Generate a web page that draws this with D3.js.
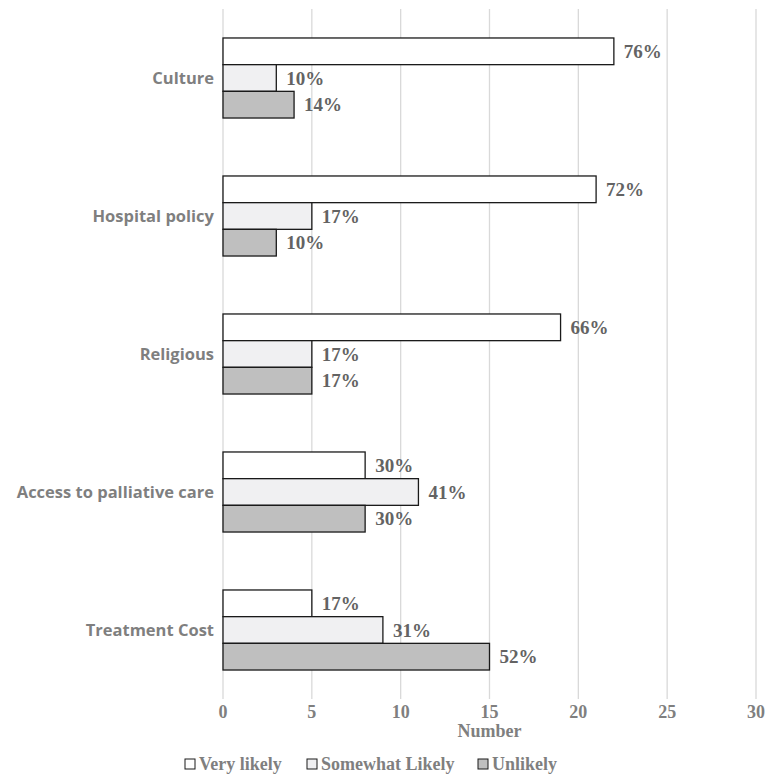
<!DOCTYPE html>
<html>
<head>
<meta charset="utf-8">
<script src="https://cdn.jsdelivr.net/npm/d3@7"></script>
<style>
  body { margin: 0; background: #fff; }
</style>
</head>
<body>
<div id="vizArea"></div>
<script>
// data
var categories = ["Culture", "Hospital policy", "Religious", "Access to palliative care", "Treatment Cost"];
var seriesNames = ["Very likely", "Somewhat Likely", "Unlikely"];
var veryLikely = [22, 21, 19, 8, 5];
var somewhatLikely = [3, 5, 5, 11, 9];
var unlikely = [4, 3, 5, 8, 15];
var veryLikelyPct = ["76%", "72%", "66%", "30%", "17%"];
var somewhatLikelyPct = ["10%", "17%", "17%", "41%", "31%"];
var unlikelyPct = ["14%", "10%", "17%", "30%", "52%"];
var xTicks = [0, 5, 10, 15, 20, 25, 30];

var fills = ["#ffffff", "#f0f0f2", "#bfbfbf"];
var seriesVals = [veryLikely, somewhatLikely, unlikely];
var seriesPct = [veryLikelyPct, somewhatLikelyPct, unlikelyPct];

var W = 767, H = 775;
var canvas = d3.select("#vizArea")
  .append("svg")
    .attr("width", W)
    .attr("height", H);

var plotLeft = 223, plotRight = 756, plotTop = 9, plotBottom = 699;

var x = d3.scaleLinear().domain([0, 30]).range([plotLeft, plotRight]);
var y = d3.scaleBand().domain(categories).range([plotTop, plotBottom]).paddingInner(0.42).paddingOuter(0.21);
var ySub = d3.scaleBand().domain(seriesNames).range([0, y.bandwidth()]);

// gridlines
canvas.append("g")
  .selectAll("line")
  .data(xTicks)
  .join("line")
    .attr("x1", d => x(d)).attr("x2", d => x(d))
    .attr("y1", plotTop).attr("y2", plotBottom)
    .attr("stroke", "#d9d9d9")
    .attr("stroke-width", 1.3);

// tick labels
canvas.append("g")
  .selectAll("text")
  .data(xTicks)
  .join("text")
    .attr("x", d => x(d))
    .attr("y", 718)
    .attr("text-anchor", "middle")
    .attr("font-family", "Liberation Serif")
    .attr("font-weight", "bold")
    .attr("font-size", 18)
    .attr("fill", "#7f7f7f")
    .text(d => d);

canvas.append("text")
  .attr("x", (plotLeft + plotRight) / 2)
  .attr("y", 737)
  .attr("text-anchor", "middle")
  .attr("font-family", "Liberation Serif")
  .attr("font-weight", "bold")
  .attr("font-size", 18)
  .attr("fill", "#7f7f7f")
  .text("Number");

// category labels
canvas.append("g")
  .selectAll("text")
  .data(categories)
  .join("text")
    .attr("x", 214)
    .attr("y", d => y(d) + y.bandwidth() / 2)
    .attr("dy", "0.35em")
    .attr("text-anchor", "end")
    .attr("font-family", "Open Sans")
    .attr("font-weight", "bold")
    .attr("font-size", 16.5)
    .attr("fill", "#7f7f7f")
    .text(d => d);

// bars
seriesNames.forEach(function (s, si) {
  var g = canvas.append("g");
  g.selectAll("rect")
    .data(categories)
    .join("rect")
      .attr("x", x(0))
      .attr("y", d => y(d) + ySub(s))
      .attr("width", (d, i) => x(seriesVals[si][i]) - x(0))
      .attr("height", ySub.bandwidth())
      .attr("fill", fills[si])
      .attr("stroke", "#1a1a1a")
      .attr("stroke-width", 1.3);
  g.selectAll("text")
    .data(categories)
    .join("text")
      .attr("x", (d, i) => x(seriesVals[si][i]) + 10)
      .attr("y", d => y(d) + ySub(s) + ySub.bandwidth() / 2)
      .attr("dy", "0.35em")
      .attr("font-family", "Liberation Serif")
      .attr("font-weight", "bold")
      .attr("font-size", 19)
      .attr("fill", "#636363")
      .text((d, i) => seriesPct[si][i]);
});

// legend
var legendX = [185, 307, 478];
var legend = canvas.append("g");
seriesNames.forEach(function (s, si) {
  legend.append("rect")
    .attr("x", legendX[si]).attr("y", 759)
    .attr("width", 10).attr("height", 10)
    .attr("fill", fills[si])
    .attr("stroke", "#1a1a1a")
    .attr("stroke-width", 1);
  legend.append("text")
    .attr("x", legendX[si] + 14).attr("y", 770)
    .attr("font-family", "Liberation Serif")
    .attr("font-weight", "bold")
    .attr("font-size", 18)
    .attr("fill", "#7f7f7f")
    .text(s);
});
</script>
</body>
</html>
